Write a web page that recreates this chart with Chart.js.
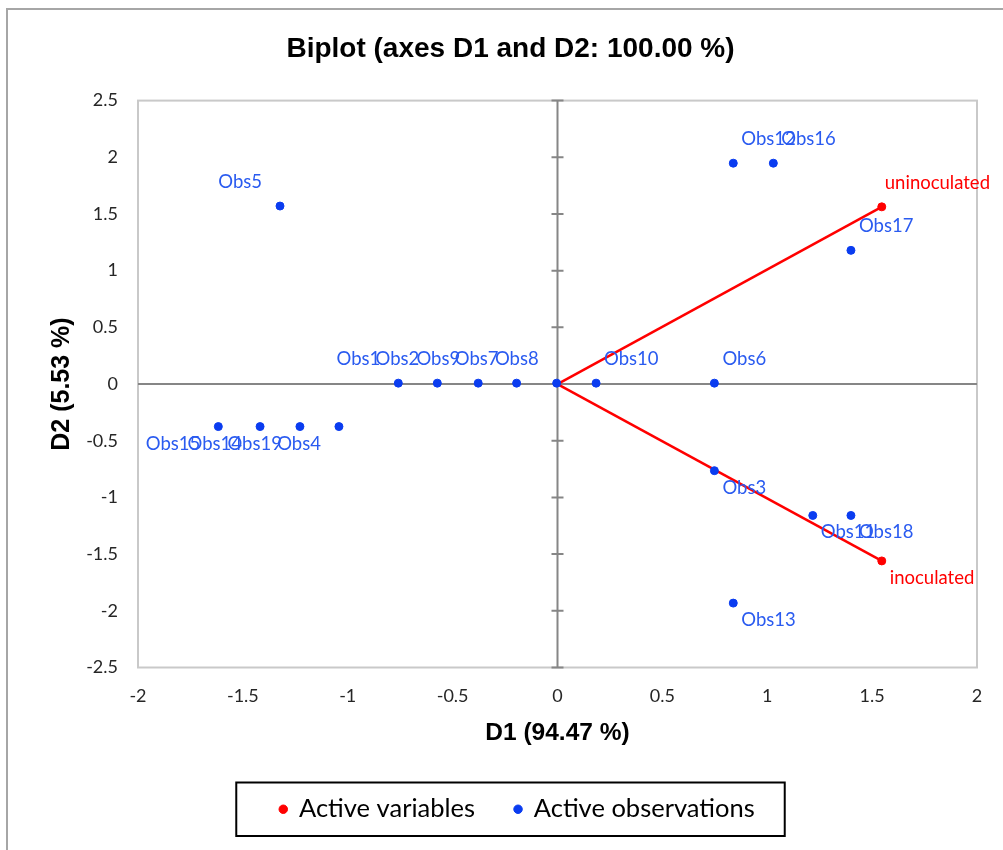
<!DOCTYPE html>
<html>
<head>
<meta charset="utf-8">
<title>Biplot</title>
<script src="https://cdn.jsdelivr.net/npm/chart.js@4.4.0/dist/chart.umd.min.js"></script>
<style>
  html, body { margin: 0; padding: 0; background: #fff; }
  #wrap { position: relative; width: 1003px; height: 850px; overflow: hidden; }
  #frame { position: absolute; left: 6px; top: 8px; width: 1100px; height: 1000px; border: 2px solid #a6a6a6; }
  canvas { position: absolute; left: 0; top: 0; }
</style>
</head>
<body>
<div id="wrap"><div id="frame"></div><canvas id="biplot" width="1003" height="850"></canvas></div>
<script>
// observations (D1, D2)
const obsNames = ['Obs1', 'Obs2', 'Obs3', 'Obs4', 'Obs5', 'Obs6', 'Obs7', 'Obs8', 'Obs9', 'Obs10',
  'Obs11', 'Obs12', 'Obs13', 'Obs14', 'Obs15', 'Obs16', 'Obs17', 'Obs18', 'Obs19'];
const obsD1 = [-0.759, -0.573, 0.748, -1.042, -1.323, 0.748, -0.195, -0.004, -0.378, 0.184,
  1.217, 0.838, 0.838, -1.418, -1.617, 1.029, 1.399, 1.399, -1.228];
const obsD2 = [0.008, 0.008, -0.764, -0.375, 1.570, 0.008, 0.008, 0.008, 0.008, 0.008,
  -1.159, 1.948, -1.932, -0.375, -0.375, 1.948, 1.179, -1.159, -0.375];

// variables (vectors from origin)
const varNames = ['uninoculated', 'inoculated'];
const varD1 = [1.546, 1.546];
const varD2 = [1.563, -1.560];

const xRange = [-2, 2];
const yRange = [-2.5, 2.5];
const tickStep = 0.5;

const RED = '#ff0000';
const BLUE = '#0a3cf0';
const LABEL_FONT = '18.5px Lato, "Open Sans", sans-serif';

const toPoints = (xs, ys) => xs.map((x, i) => ({ x: x, y: ys[i] }));

let vectorSets = varNames.map((name, i) => ({
  type: 'line',
  label: 'vector ' + name,
  data: [{ x: 0, y: 0 }, { x: varD1[i], y: varD2[i] }],
  borderColor: RED,
  borderWidth: 2.5,
  pointRadius: 0,
  fill: false,
  order: 2
}));

// draws plot frame, centred axes with y cross ticks, point names and legend box
const biplotDecor = {
  id: 'biplotDecor',
  afterLayout(chart) {
    // nudge legend a bit right, like the original
    chart.legend.left += 7;
    chart.legend.right += 7;
  },
  beforeDatasetsDraw(chart) {
    const { ctx, chartArea: a, scales: { x, y } } = chart;
    ctx.save();
    ctx.strokeStyle = '#c9c9c9';
    ctx.lineWidth = 2;
    ctx.strokeRect(a.left, a.top, a.right - a.left, a.bottom - a.top);

    const x0 = x.getPixelForValue(0);
    const y0 = y.getPixelForValue(0);
    ctx.strokeStyle = '#868686';
    ctx.lineWidth = 2;
    ctx.beginPath();
    ctx.moveTo(a.left, y0); ctx.lineTo(a.right, y0);
    ctx.moveTo(x0, a.top); ctx.lineTo(x0, a.bottom);
    y.ticks.forEach(t => {
      const py = y.getPixelForValue(t.value);
      ctx.moveTo(x0 - 6, py); ctx.lineTo(x0 + 6, py);
    });
    ctx.stroke();
    ctx.restore();
  },
  afterDatasetsDraw(chart) {
    const { ctx } = chart;
    const maxRight = chart.width - 13;
    ctx.save();
    ctx.font = LABEL_FONT;
    ctx.textBaseline = 'middle';
    chart.data.datasets.forEach((ds, di) => {
      if (!ds.pointNames) return;
      const meta = chart.getDatasetMeta(di);
      meta.data.forEach((pt, i) => {
        const v = ds.data[i];
        const name = ds.pointNames[i];
        ctx.fillStyle = ds.labelColor;
        let tx, ty;
        if (v.x < 0) { ctx.textAlign = 'right'; tx = pt.x - 18; }
        else {
          ctx.textAlign = 'left';
          tx = pt.x + 8;
          const w = ctx.measureText(name).width;
          if (tx + w > maxRight) tx = maxRight - w;
        }
        ty = v.y >= 0 ? pt.y - 24 : pt.y + 17;
        ctx.fillText(name, tx, ty);
      });
    });
    ctx.restore();
  },
  afterDraw(chart) {
    const boxes = chart.legend.legendHitBoxes;
    if (!boxes || !boxes.length) return;
    const first = boxes[0], last = boxes[boxes.length - 1];
    const { ctx } = chart;
    ctx.save();
    ctx.strokeStyle = '#000';
    ctx.lineWidth = 2;
    const l = first.left - 44, r = last.left + last.width + 30;
    const t = first.top - 14, b = first.top + first.height + 14;
    ctx.strokeRect(l, t, r - l, b - t);
    ctx.restore();
  }
};

new Chart(document.getElementById('biplot'), {
  type: 'scatter',
  data: {
    datasets: [
      {
        label: 'Active variables',
        data: toPoints(varD1, varD2),
        pointNames: varNames,
        labelColor: RED,
        backgroundColor: RED,
        borderColor: RED,
        pointRadius: 4,
        pointHoverRadius: 4,
        order: 1
      },
      {
        label: 'Active observations',
        data: toPoints(obsD1, obsD2),
        pointNames: obsNames,
        labelColor: '#2a5bf0',
        backgroundColor: BLUE,
        borderColor: BLUE,
        pointRadius: 4,
        pointHoverRadius: 4,
        order: 0
      }
    ].concat(vectorSets)
  },
  plugins: [biplotDecor],
  options: {
    responsive: false,
    animation: false,
    layout: { padding: { left: 44, right: 26, top: 0, bottom: 18 } },
    plugins: {
      tooltip: { enabled: false },
      title: {
        display: true,
        text: 'Biplot (axes D1 and D2: 100.00 %)',
        color: '#000',
        font: { family: '"Liberation Sans", Arial, sans-serif', size: 28, weight: 'bold' },
        padding: { top: 32, bottom: 35 }
      },
      legend: {
        position: 'bottom',
        labels: {
          filter: item => item.text.indexOf('vector') !== 0,
          sort: (a, b) => a.datasetIndex - b.datasetIndex,
          usePointStyle: true,
          pointStyle: 'circle',
          boxWidth: 6,
          boxHeight: 6,
          padding: 40,
          color: '#000',
          font: { family: 'Lato, "Open Sans", sans-serif', size: 25.5 }
        }
      }
    },
    scales: {
      x: {
        type: 'linear',
        min: xRange[0],
        max: xRange[1],
        grid: { display: false, drawTicks: false },
        border: { display: false },
        ticks: { stepSize: tickStep, padding: 18, color: '#262626',
          callback: v => String(v),
          font: { family: 'Lato, "Open Sans", sans-serif', size: 18 } },
        title: {
          display: true,
          text: 'D1 (94.47 %)',
          color: '#000',
          font: { family: '"Liberation Sans", Arial, sans-serif', size: 24.5, weight: 'bold' },
          padding: { top: 0, bottom: 9 }
        },
        afterFit: s => { s.height = 89; }
      },
      y: {
        type: 'linear',
        min: yRange[0],
        max: yRange[1],
        grid: { display: false, drawTicks: false },
        border: { display: false },
        ticks: { stepSize: tickStep, padding: 20, color: '#262626',
          callback: v => String(v),
          font: { family: 'Lato, "Open Sans", sans-serif', size: 18 } },
        title: {
          display: true,
          text: 'D2 (5.53 %)',
          color: '#000',
          font: { family: '"Liberation Sans", Arial, sans-serif', size: 25, weight: 'bold' },
          padding: { top: 3, bottom: 0 }
        },
        afterFit: s => { s.width = 94; }
      }
    }
  }
});
</script>
</body>
</html>
